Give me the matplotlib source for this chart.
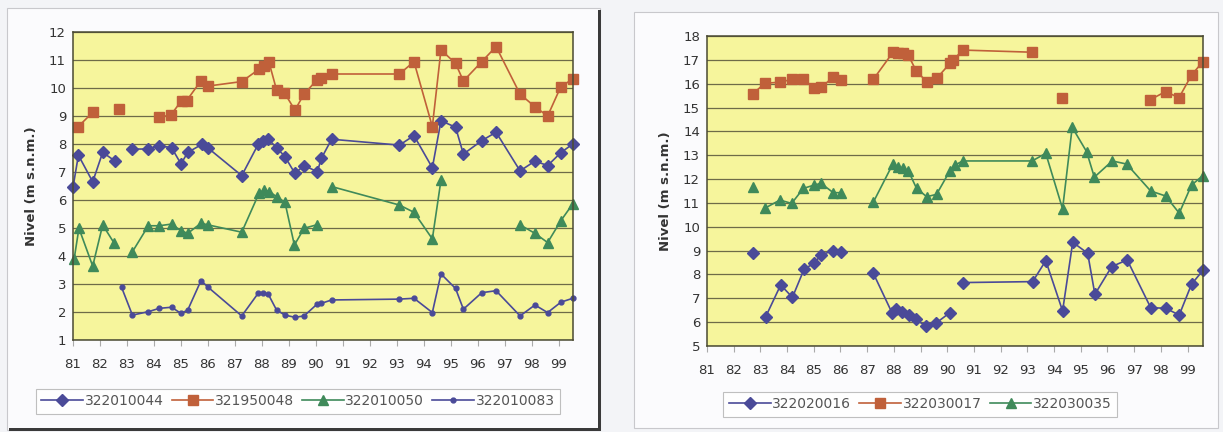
import numpy as np
import matplotlib.pyplot as plt
from matplotlib.patches import Rectangle

nan = np.nan

# left chart: dates (decimal years, 2-digit) and levels
x_044 = [81.0, 81.2, 81.73, 82.1, 82.56, 82.9, 83.17, 83.77, 84.19, 84.65, 85.0, 85.25, 85.78, 86.01,
         87.25, 87.86, 88.05, 88.23, 88.54, 88.85, 89.22, 89.56, 90.05, 90.2, 90.58, 93.09, 93.63,
         94.31, 94.63, 95.17, 95.46, 96.14, 96.67, 97.56, 98.11, 98.58, 99.07, 99.51]
y_044 = [6.45, 7.6, 6.65, 7.7, 7.39, nan, 7.82, 7.82, 7.94, 7.87, 7.29, 7.7, 7.99, 7.85,
         6.87, 7.99, 8.12, 8.17, 7.87, 7.55, 6.95, 7.23, 7.01, 7.49, 8.17, 7.96, 8.3,
         7.15, 8.83, 8.6, 7.64, 8.12, 8.42, 7.04, 7.39, 7.23, 7.69, 8.0]

x_048 = [81.17, 81.73, 82.2, 82.7, 83.5, 84.19, 84.63, 85.02, 85.21, 85.74, 86.01, 87.25, 87.89,
         88.07, 88.26, 88.54, 88.83, 89.22, 89.56, 90.05, 90.2, 90.58, 93.09, 93.63, 94.31,
         94.63, 95.17, 95.46, 96.14, 96.67, 97.56, 98.11, 98.58, 99.07, 99.51]
y_048 = [8.6, 9.13, nan, 9.24, nan, 8.95, 9.04, 9.55, 9.55, 10.26, 10.07, 10.23, 10.67,
         10.79, 10.92, 9.93, 9.83, 9.21, 9.79, 10.3, 10.35, 10.5, 10.5, 10.94, 8.62,
         11.36, 10.88, 10.25, 10.94, 11.48, 9.78, 9.33, 9.0, 10.05, 10.32]

x_050 = [81.04, 81.22, 81.73, 82.1, 82.53, 82.9, 83.2, 83.79, 84.19, 84.65, 85.0, 85.25, 85.74,
         86.01, 87.25, 87.89, 88.08, 88.27, 88.54, 88.85, 89.2, 89.56, 90.05, 90.3, 90.58,
         93.09, 93.63, 94.31, 94.63, 96.0, 97.56, 98.11, 98.58, 99.07, 99.51]
y_050 = [3.88, 4.99, 3.64, 5.11, 4.45, nan, 4.15, 5.08, 5.08, 5.14, 4.9, 4.81, 5.17,
         5.11, 4.85, 6.24, 6.36, 6.3, 6.12, 5.92, 4.39, 4.99, 5.12, nan, 6.48,
         5.82, 5.56, 4.61, 6.71, nan, 5.11, 4.81, 4.48, 5.26, 5.86]

x_083 = [82.8, 83.2, 83.79, 84.19, 84.65, 85.0, 85.25, 85.74, 86.01, 87.25, 87.86, 88.05, 88.23,
         88.54, 88.85, 89.22, 89.56, 90.05, 90.2, 90.58, 93.09, 93.63, 94.31, 94.63, 95.17,
         95.46, 96.14, 96.67, 97.56, 98.11, 98.58, 99.07, 99.51]
y_083 = [2.88, 1.89, 2.01, 2.13, 2.17, 1.95, 2.07, 3.12, 2.88, 1.86, 2.67, 2.67, 2.64,
         2.07, 1.89, 1.81, 1.86, 2.29, 2.31, 2.43, 2.46, 2.49, 1.98, 3.36, 2.84,
         2.1, 2.69, 2.76, 1.86, 2.25, 1.98, 2.35, 2.49]

# right chart
x_016 = [82.71, 83.0, 83.2, 83.76, 84.2, 84.64, 85.02, 85.27, 85.73, 86.02, 86.6, 87.23, 87.94,
         88.08, 88.29, 88.58, 88.83, 89.2, 89.58, 90.1, 90.3, 90.58, 93.2, 93.69, 94.32,
         94.7, 95.26, 95.53, 96.16, 96.74, 97.62, 98.18, 98.69, 99.15, 99.59]
y_016 = [8.89, nan, 6.23, 7.56, 7.04, 8.23, 8.47, 8.82, 9.0, 8.96, nan, 8.05, 6.37,
         6.55, 6.44, 6.3, 6.12, 5.82, 5.96, 6.4, nan, 7.66, 7.7, 8.58, 6.47,
         9.35, 8.89, 7.17, 8.33, 8.61, 6.61, 6.58, 6.3, 7.59, 8.19]

x_017 = [82.71, 83.17, 83.73, 84.17, 84.61, 85.02, 85.27, 85.73, 86.02, 86.6, 87.23, 87.98, 88.14,
         88.33, 88.54, 88.83, 89.23, 89.6, 90.1, 90.22, 90.58, 93.18, 93.7, 94.31, 95.0,
         97.59, 98.18, 98.68, 99.15, 99.57]
y_017 = [15.57, 16.02, 16.06, 16.18, 16.2, 15.81, 15.85, 16.27, 16.16, nan, 16.18, 17.34, 17.3,
         17.27, 17.2, 16.55, 16.08, 16.22, 16.85, 16.99, 17.41, 17.32, nan, 15.41, nan,
         15.32, 15.67, 15.41, 16.36, 16.92]

x_035 = [82.71, 83.0, 83.17, 83.73, 84.17, 84.61, 85.02, 85.27, 85.73, 86.02, 86.6, 87.23, 87.96,
         88.14, 88.33, 88.54, 88.85, 89.23, 89.6, 90.1, 90.29, 90.58, 93.18, 93.69, 94.32,
         94.68, 95.22, 95.51, 96.18, 96.72, 97.62, 98.18, 98.69, 99.15, 99.57]
y_035 = [11.68, nan, 10.78, 11.12, 10.98, 11.61, 11.75, 11.82, 11.43, 11.43, nan, 11.03, 12.63,
         12.52, 12.45, 12.35, 11.61, 11.26, 11.36, 12.35, 12.59, 12.76, 12.76, 13.08, 10.75,
         14.17, 13.15, 12.08, 12.76, 12.63, 11.5, 11.29, 10.57, 11.75, 12.14]

years = list(range(81, 100))
year_labels = [str(y) for y in years]

blue = "#4a4a98"
orange = "#c0603a"
green = "#3f8a5a"
plot_bg = "#f6f59c"
grid_c = "#6e6b48"

fig = plt.figure(figsize=(12.23, 4.32), dpi=100, facecolor="#f3f4f7")

# panel frames, behind the axes
fig.patches.append(Rectangle((7 / 1223, 1 - 430 / 432), 593 / 1223, 422 / 432,
                             transform=fig.transFigure, facecolor="#fbfbfd",
                             edgecolor="#c8c8cc", lw=0.8, zorder=-5))
fig.patches.append(Rectangle((598 / 1223, 1 - 430 / 432), 3 / 1223, 420 / 432,
                             transform=fig.transFigure, facecolor="#3a3a3a", lw=0, zorder=-4))
fig.patches.append(Rectangle((9 / 1223, 1 - 431 / 432), 592 / 1223, 3 / 432,
                             transform=fig.transFigure, facecolor="#3a3a3a", lw=0, zorder=-4))
fig.patches.append(Rectangle((634 / 1223, 1 - 428 / 432), 584 / 1223, 416 / 432,
                             transform=fig.transFigure, facecolor="#fbfbfd",
                             edgecolor="#c8c8cc", lw=0.8, zorder=-5))


def style_axes(ax, ylim, xmax):
    ax.set_facecolor(plot_bg)
    ax.set_xlim(81, xmax)
    ax.set_ylim(*ylim)
    ax.set_yticks(range(ylim[0], ylim[1] + 1))
    ax.set_xticks(years)
    ax.set_xticklabels(year_labels)
    ax.yaxis.grid(True, color=grid_c, lw=0.9)
    ax.set_axisbelow(True)
    for s in ax.spines.values():
        s.set_color("#4a4a32")
        s.set_linewidth(1.1)
    ax.tick_params(axis="x", length=4, color="#aaaaaa", labelsize=9.5, labelcolor="#333333", pad=9)
    ax.tick_params(axis="y", length=0, labelsize=9.5, labelcolor="#333333", pad=5)
    ax.set_ylabel("Nivel (m s.n.m.)", fontsize=9.5, fontweight="bold", color="#333333", labelpad=8)


def add_legend(ax, xc, yoff):
    leg = ax.legend(loc="upper center", bbox_to_anchor=(xc, yoff), ncol=4, fontsize=10,
                    frameon=True, fancybox=False, edgecolor="#b0b0b0", handlelength=3,
                    handletextpad=0.1, columnspacing=0.6, borderpad=0.4)
    leg.get_frame().set_linewidth(0.8)
    for t in leg.get_texts():
        t.set_color("#555555")


ax1 = fig.add_axes([73 / 1223, 92 / 432, 500 / 1223, 308 / 432])
style_axes(ax1, (1, 12), 99.52)
ax1.plot(x_044, y_044, color=blue, marker="D", ms=6.5, lw=1.2, label="322010044", clip_on=False)
ax1.plot(x_048, y_048, color=orange, marker="s", ms=6.5, lw=1.2, label="321950048", clip_on=False)
ax1.plot(x_050, y_050, color=green, marker="^", ms=7.5, lw=1.2, label="322010050", clip_on=False)
ax1.plot(x_083, y_083, color=blue, marker="o", ms=3.5, lw=1.2, label="322010083", clip_on=False)
add_legend(ax1, 0.45, -0.135)

ax2 = fig.add_axes([707 / 1223, 86 / 432, 496 / 1223, 310 / 432])
style_axes(ax2, (5, 18), 99.58)
ax2.plot(x_016, y_016, color=blue, marker="D", ms=6.5, lw=1.2, label="322020016", clip_on=False)
ax2.plot(x_017, y_017, color=orange, marker="s", ms=6.5, lw=1.2, label="322030017", clip_on=False)
ax2.plot(x_035, y_035, color=green, marker="^", ms=7.5, lw=1.2, label="322030035", clip_on=False)
add_legend(ax2, 0.43, -0.125)

fig.savefig("out.png", dpi=100, facecolor=fig.get_facecolor())
